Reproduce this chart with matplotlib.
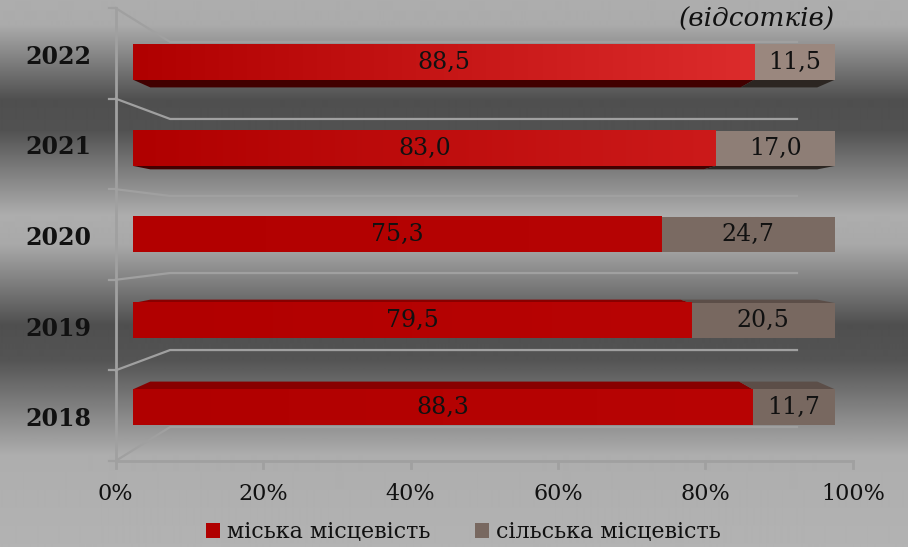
import numpy as np
import matplotlib
matplotlib.use('Agg')
import matplotlib.pyplot as plt
from matplotlib.patches import Polygon, Patch
from matplotlib.colors import LinearSegmentedColormap

# ---- data ----
years = ['2018', '2019', '2020', '2021', '2022']
urban = [88.3, 79.5, 75.3, 83.0, 88.5]
rural = [11.7, 20.5, 24.7, 17.0, 11.5]
ticks = [0, 20, 40, 60, 80, 100]
tick_labels = ['0%', '20%', '40%', '60%', '80%', '100%']
series_names = ['міська місцевість', 'сільська місцевість']
unit_label = '(відсотків)'

# ---- style ----
FONT = 'DejaVu Serif'
W, H = 908, 547
red_left = ['#b00000', '#b10000', '#b20000', '#b00000', '#b00000']
red_right = ['#b80404', '#b80404', '#b60404', '#cc1a1a', '#dc2c2c']
brown = ['#786860', '#786860', '#7a6a62', '#8e7e76', '#9a877e']
red_dark_bottom = '#420000'
brown_dark_bottom = '#2c2622'
red_top = '#880000'
brown_top = '#5c4e48'
line_col = '#a0a0a0'

fig = plt.figure(figsize=(W / 100, H / 100), dpi=100)

# background gradient bands
bg = fig.add_axes([0, 0, 1, 1])
bg.set_axis_off()
ys = [0, 25, 100, 130, 215, 245, 325, 360, 455, 547]
gv = [0.68, 0.67, 0.31, 0.32, 0.68, 0.66, 0.31, 0.33, 0.68, 0.70]
col = np.interp(np.arange(H), ys, gv)
bg.imshow(np.repeat(col[:, None], 2, axis=1), cmap='gray', vmin=0, vmax=1,
          aspect='auto', extent=[0, 1, 0, 1], origin='upper', interpolation='bilinear')

# main axes: front plane of bars, 0..100 %
ax = fig.add_axes([133 / W, 0, 702 / W, 1])
ax.set_axis_off()
ax.patch.set_alpha(0)
y_lo, y_hi = (407 - 547) / 86.25, 407 / 86.25
VPX, VPY = 49.4, 2.0


def P(x, y, s):
    return (VPX + s * (x - VPX), VPY + s * (y - VPY))


S_FLOOR, S_BACK, S_WALL = 1.05, 0.95, 0.893
bh = 0.41
ypos = np.arange(len(years))

# wall grid lines
lw = 1.6
for yb in [-0.5, 0.5, 1.5, 2.5, 3.5, 4.5]:
    a = P(0, yb, S_FLOOR)
    b = P(0, yb, S_WALL)
    c = P(100, yb, S_WALL)
    ax.plot([a[0], b[0], c[0]], [a[1], b[1], c[1]], color=line_col, lw=lw, zorder=1,
            solid_joinstyle='miter', clip_on=False)
    ax.plot([a[0] - 1.0, a[0]], [a[1], a[1]], color=line_col, lw=lw, zorder=1, clip_on=False)
top = P(0, 4.5, S_FLOOR)
bot = P(0, -0.5, S_FLOOR)
ax.plot([top[0], bot[0]], [top[1], bot[1]], color=line_col, lw=lw + 0.4, zorder=1, clip_on=False)
fr = P(100, -0.5, S_FLOOR)
ax.plot([bot[0], fr[0]], [bot[1], fr[1]], color=line_col, lw=lw + 0.4, zorder=1, clip_on=False)
for t, lab in zip(ticks, tick_labels):
    p = P(t, -0.5, S_FLOOR)
    ax.plot([p[0], p[0]], [p[1], p[1] - 0.08], color=line_col, lw=lw + 0.4, zorder=1,
            clip_on=False)
    ax.text(p[0], p[1] - 0.38, lab, ha='center', va='center',
            fontsize=16, family=FONT, color='#111111')

# bars
bars_u = ax.barh(ypos, urban, height=bh, color=red_left, zorder=3, linewidth=0)
bars_r = ax.barh(ypos, rural, left=urban, height=bh, color=brown, zorder=3, linewidth=0)

for i in range(len(years)):
    yc = ypos[i]
    y0, y1 = yc - bh / 2, yc + bh / 2
    segs = [(0, urban[i], red_dark_bottom, red_top),
            (urban[i], urban[i] + rural[i], brown_dark_bottom, brown_top)]
    for x0, x1, cdark, ctop in segs:
        if yc > VPY + 0.1:
            pts = [(x0, y0), (x1, y0), P(x1, y0, S_BACK), P(x0, y0, S_BACK)]
            ax.add_patch(Polygon(pts, closed=True, color=cdark, lw=0, zorder=2.5))
        elif yc < VPY - 0.1:
            pts = [(x0, y1), (x1, y1), P(x1, y1, S_BACK), P(x0, y1, S_BACK)]
            ax.add_patch(Polygon(pts, closed=True, color=ctop, lw=0, zorder=2.5))
    # horizontal shading of the red segment
    cmap = LinearSegmentedColormap.from_list('g%d' % i, [red_left[i], red_right[i]])
    ax.imshow(np.linspace(0, 1, 256)[None, :], cmap=cmap, aspect='auto',
              extent=[0, urban[i], y0, y1], zorder=3.1, interpolation='bilinear')
    ax.text(urban[i] / 2, yc, f'{urban[i]:.1f}'.replace('.', ','), ha='center', va='center',
            fontsize=17, family=FONT, color='#111111', zorder=5)
    ax.text(urban[i] + rural[i] / 2, yc, f'{rural[i]:.1f}'.replace('.', ','), ha='center',
            va='center', fontsize=17, family=FONT, color='#111111', zorder=5)
    lp = P(0, yc, S_FLOOR)
    ax.text(-6.0, lp[1] - 0.04, years[i], ha='right', va='center', fontsize=17,
            fontweight='bold', family=FONT, color='#111111')

ax.set_xlim(0, 100)
ax.set_ylim(y_lo, y_hi)

fig.text(835 / W, 1 - 19 / H, unit_label, ha='right', va='center', fontsize=19,
         style='italic', family=FONT, color='#111111')

handles = [Patch(facecolor='#b00000', edgecolor='none'),
           Patch(facecolor='#786860', edgecolor='none')]
fig.legend(handles, series_names, loc='center', bbox_to_anchor=(463 / W, 1 - 532 / H),
           ncol=2, frameon=False, handlelength=0.65, handleheight=0.65, handletextpad=0.3,
           columnspacing=2.0, prop={'family': FONT, 'size': 16}, labelcolor='#111111')

fig.savefig('out.png', dpi=100)
